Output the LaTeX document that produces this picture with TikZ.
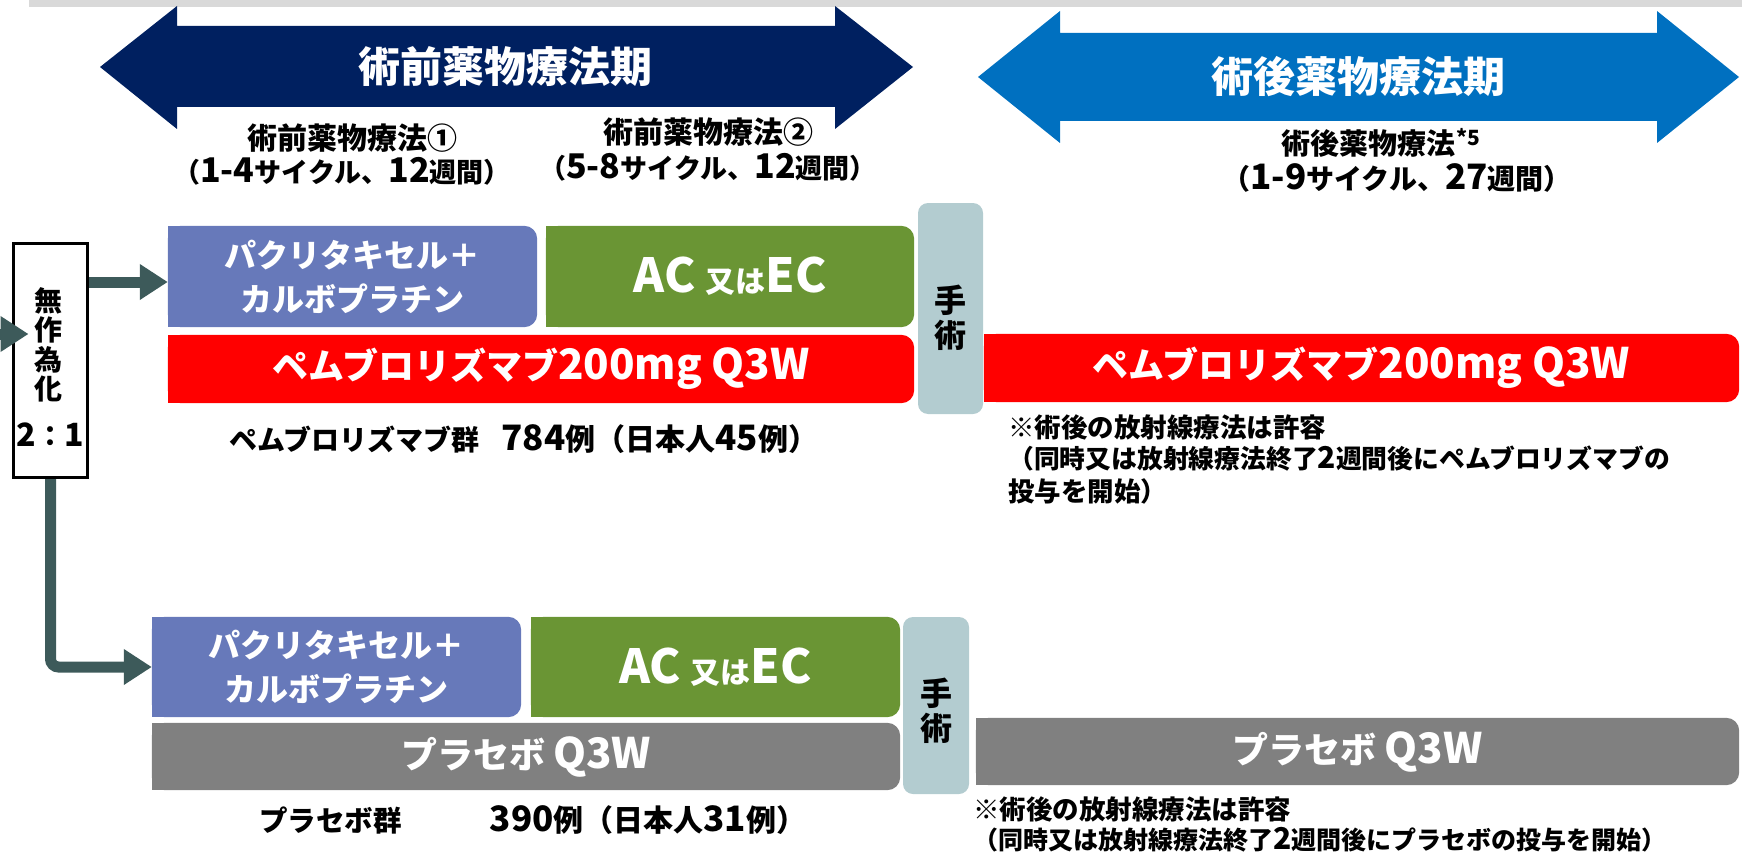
\documentclass[tikz,border=0pt]{standalone}
\usepackage{fontspec}
\newfontfamily\jp{Noto Sans CJK JP}
\usetikzlibrary{arrows.meta}
\newcommand\Ls[2]{{\fontsize{#1pt}{#1pt}\selectfont #2}}
\newcommand\Fs[2]{\fontsize{#1pt}{#2pt}\selectfont}
\pgfdeclarelayer{bg}
\pgfsetlayers{bg,main}
\definecolor{navy}{HTML}{002060}
\definecolor{pblue}{HTML}{0070C0}
\definecolor{pac}{HTML}{6779BA}
\definecolor{acg}{HTML}{6A9534}
\definecolor{pemr}{HTML}{FF0000}
\definecolor{plag}{HTML}{808080}
\definecolor{surg}{HTML}{B3CCD0}
\definecolor{conn}{HTML}{3D5A5A}
\definecolor{band}{HTML}{D9D9D9}
% right-rounded box behind a node
\newcommand\rbox[2]{%
  \begin{pgfonlayer}{bg}
    \fill[#2,rounded corners=13pt] (#1.north west) rectangle (#1.south east);
    \fill[#2] (#1.north west) rectangle ([xshift=20pt]#1.south west);
  \end{pgfonlayer}}
\begin{document}
\begin{tikzpicture}[x=1pt,y=1pt,
  txt/.style={inner sep=0pt, font=\jp\bfseries},
  bx/.style={inner sep=0pt, font=\jp\bfseries, text=white, align=center},
  surgbox/.style={inner sep=0pt, fill=surg, rounded corners=10pt},
  surgtxt/.style={inner sep=0pt, align=center, font=\jp\bfseries\Fs{32}{35}},
  arr/.style={draw=conn, line width=11pt, -{Triangle[width=34pt,length=28pt]}},
]
\useasboundingbox (0,0) rectangle (1742,-856);

% top band
\fill[band] (29,0) rectangle (1742,-7);

% period arrows
\fill[navy] (100,-67) -- (177,-6) -- (177,-26) -- (835,-26) -- (835,-6) -- (913,-67)
  -- (835,-129) -- (835,-107) -- (177,-107) -- (177,-129) -- cycle;
\fill[pblue] (978,-77) -- (1060,-11) -- (1060,-33) -- (1657,-33) -- (1657,-11) -- (1739,-77)
  -- (1657,-143) -- (1657,-121) -- (1060,-121) -- (1060,-143) -- cycle;
\node[txt, text=white, font=\jp\bfseries\Fs{42}{42}] (preT) at (505,-67) {術前薬物療法期};
\node[txt, text=white, font=\jp\bfseries\Fs{42}{42}] (postT) at (1358,-77) {術後薬物療法期};

% phase labels
\node[txt, font=\jp\bfseries\Fs{30}{30}] (pre1a) at (352,-138) {術前薬物療法①};
\node[txt, font=\jp\bfseries\Fs{27}{27}] (pre1b) at (342,-171) {（\Ls{34}{1-4}サイクル、\Ls{34}{12}週間）};
\node[txt, font=\jp\bfseries\Fs{30}{30}] (pre2a) at (708,-132) {術前薬物療法②};
\node[txt, font=\jp\bfseries\Fs{27}{27}] (pre2b) at (708,-167) {（\Ls{34}{5-8}サイクル、\Ls{34}{12}週間）};
\node[txt, font=\jp\bfseries\Fs{29}{29}] (posta) at (1381,-143) {術後薬物療法\hspace{1pt}\raisebox{9pt}{\Ls{21}{*5}}};
\node[txt, font=\jp\bfseries\Fs{28}{28}] (postb) at (1397,-178) {（\Ls{35}{1-9}サイクル、\Ls{35}{27}週間）};

% randomisation box
\node[draw=black, line width=3pt, fill=white, inner sep=0pt,
      minimum width=74pt, minimum height=234pt] (rand) at (50.5,-360.5) {};
\node[txt, align=center, font=\jp\bfseries\Fs{28}{29.5}] (randT) at (48,-345) {無\\作\\為\\化};
\node[txt, font=\jp\bfseries\Fs{28}{28}] (ratio) at (50,-435) {\Ls{32}{2}：\Ls{32}{1}};

% pembrolizumab arm
\node[bx, minimum width=369pt, minimum height=101pt, font=\jp\bfseries\Fs{32}{44}] (pac1) at (352.5,-276.5) {パクリタキセル＋\\カルボプラチン};
\node[bx, minimum width=368pt, minimum height=101pt] (ac1) at (730,-276.5) {\Ls{47}{AC}\hspace{10pt}\Ls{30}{又は}\Ls{47}{EC}};
\node[bx, minimum width=746pt, minimum height=68pt] (pem1) at (541,-369) {\Ls{36}{ペムブロリズマブ}\Ls{42}{200mg Q3W}};
\node[surgbox, minimum width=65pt, minimum height=211pt] (surg1) at (950.5,-308.5) {};
\node[surgtxt] (surg1T) at (950,-318) {手\\術};
\node[bx, minimum width=755pt, minimum height=68pt] (pem2) at (1361.5,-368) {\Ls{36}{ペムブロリズマブ}\Ls{42}{200mg Q3W}};
\rbox{pac1}{pac}
\rbox{ac1}{acg}
\rbox{pem1}{pemr}
\rbox{pem2}{pemr}

\node[txt, anchor=west, font=\jp\bfseries\Fs{28}{28}] (pemG) at (229,-439) {ペムブロリズマブ群\hspace{22pt}\Ls{35}{784}\Ls{30}{例（日本人}\Ls{35}{45}\Ls{30}{例）}};
\node[txt, anchor=west, font=\jp\bfseries\Fs{26.5}{26.5}] (noteA1) at (1008,-427) {※術後の放射線療法は許容};
\node[txt, anchor=west, font=\jp\bfseries\Fs{25.8}{25.8}] (noteA2) at (1008,-459) {（同時又は放射線療法終了\Ls{30}{2}週間後にペムブロリズマブの};
\node[txt, anchor=west, font=\jp\bfseries\Fs{26.5}{26.5}] (noteA3) at (1008,-491) {投与を開始）};

% placebo arm
\node[bx, minimum width=369pt, minimum height=100pt, font=\jp\bfseries\Fs{32}{44}] (pac2) at (336.5,-667) {パクリタキセル＋\\カルボプラチン};
\node[bx, minimum width=369pt, minimum height=100pt] (ac2) at (715.5,-667) {\Ls{47}{AC}\hspace{10pt}\Ls{30}{又は}\Ls{47}{EC}};
\node[bx, minimum width=748pt, minimum height=67pt] (pla1) at (526,-756.5) {\Ls{36}{プラセボ}\hspace{8pt}\Ls{42}{Q3W}};
\node[surgbox, minimum width=66pt, minimum height=177pt] (surg2) at (936,-705.5) {};
\node[surgtxt] (surg2T) at (936,-711) {手\\術};
\node[bx, minimum width=763pt, minimum height=67pt] (pla2) at (1357.5,-751.5) {\Ls{36}{プラセボ}\hspace{8pt}\Ls{42}{Q3W}};
\rbox{pac2}{pac}
\rbox{ac2}{acg}
\rbox{pla1}{plag}
\rbox{pla2}{plag}

\node[txt, anchor=west, font=\jp\bfseries\Fs{28.5}{28.5}] (plaG) at (259,-820) {プラセボ群\hspace{88pt}\Ls{35}{390}\Ls{30}{例（日本人}\Ls{35}{31}\Ls{30}{例）}};
\node[txt, anchor=west, font=\jp\bfseries\Fs{26.5}{26.5}] (noteB1) at (973,-809) {※術後の放射線療法は許容};
\node[txt, anchor=west, font=\jp\bfseries\Fs{25}{25}] (noteB2) at (973,-840) {（同時又は放射線療法終了\Ls{30}{2}週間後にプラセボの投与を開始）};

% connectors
\coordinate (inL) at (-12,-334);
\draw[arr] (inL) -- ([xshift=16.5pt]rand.west |- inL);
\draw[arr] (rand.east |- 0,-282) -- (pac1.west |- 0,-282);
\draw[arr, rounded corners=8pt] (rand.south) -- (rand.south |- pac2.west) -- (pac2.west);
\end{tikzpicture}
\end{document}
